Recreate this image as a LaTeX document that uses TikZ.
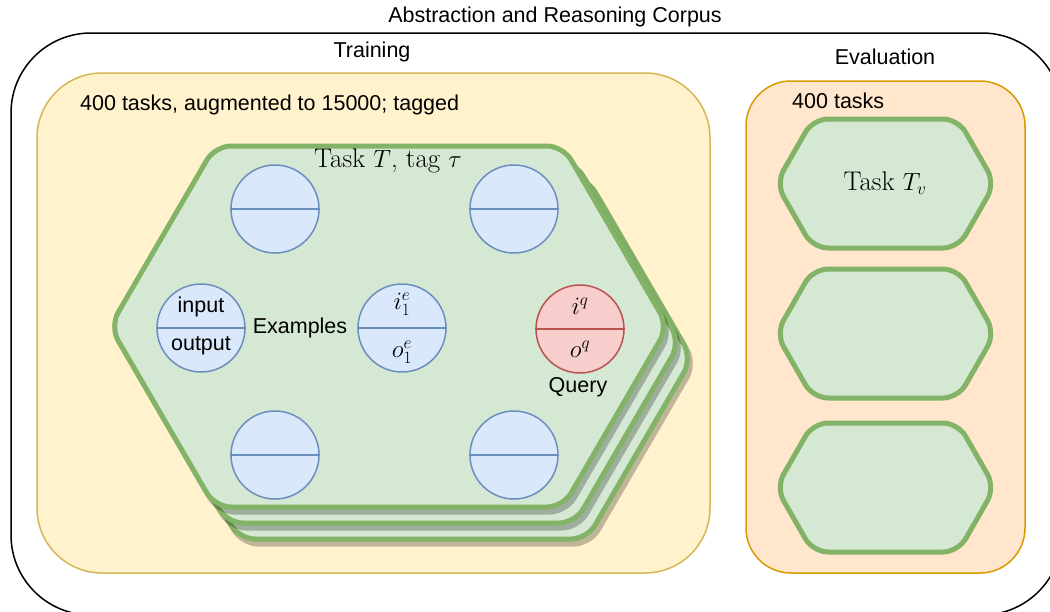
\documentclass[tikz,border=0pt]{standalone}
\usepackage{amsmath}
\usepackage{fontspec}
\setsansfont{Liberation Sans}
\usetikzlibrary{calc}
\definecolor{greenfill}{HTML}{D5E8D4}
\definecolor{greenline}{HTML}{82B366}
\definecolor{bluefill}{HTML}{DAE8FC}
\definecolor{blueline}{HTML}{6C8EBF}
\definecolor{redfill}{HTML}{F8CECC}
\definecolor{redline}{HTML}{B85450}
\definecolor{yellowfill}{HTML}{FFF2CC}
\definecolor{yellowline}{HTML}{D6B656}
\definecolor{orangefill}{HTML}{FFE6CC}
\definecolor{orangeline}{HTML}{D79B00}

\begin{document}
\begin{tikzpicture}[x=1pt,y=-1pt,
    sanslabel/.style={font=\sffamily\fontsize{21.5}{24}\selectfont, inner sep=0pt},
    mathlabel/.style={font=\rmfamily\fontsize{27}{30}\selectfont, inner sep=0pt},
    taskhex/.style={fill=greenfill, draw=greenline, line width=5pt, rounded corners=16pt},
    hexshadow/.style={fill=black, draw=black, line width=5pt, rounded corners=16pt},
    pair/.style={circle, minimum size=88pt, inner sep=0pt, line width=1.5pt, fill=bluefill, draw=blueline},
    querypair/.style={pair, fill=redfill, draw=redline}]
    \useasboundingbox (0,0) rectangle (1050,611);
    \clip (0,0) rectangle (1050,611);
    \fill[white] (0,0) rectangle (1050,611);
        % corpus
        \draw[line width=1.5pt, rounded corners=80pt] (11,33) rectangle (1062,615);
        \node[sanslabel] (corpus) at (555,17) {Abstraction and Reasoning Corpus};
        % training set
        \draw[fill=yellowfill, draw=yellowline, line width=1.5pt, rounded corners=65pt] (37,73) rectangle (710,573);
        \node[sanslabel] (training) at (372,52) {Training};
        \node[sanslabel, anchor=west] (trainsize) at (80,105) {400 tasks, augmented to 15000; tagged};
        % evaluation set
        \draw[fill=orangefill, draw=orangeline, line width=1.5pt, rounded corners=45pt] (746,81) rectangle (1025,573);
        \node[sanslabel] (evaluation) at (885,57) {Evaluation};
        \node[sanslabel, anchor=west] (evalsize) at (792,101) {400 tasks};
        % stack of training tasks
        \foreach \d in {2,1,0} {
        \begin{scope}[transparency group, opacity=0.25]
        \draw[hexshadow, shift={(12*\d+3,16*\d+5)}] (389,146) -- (563,146) -- (668,326.5) -- (563,507) -- (215,507) -- (110,326.5) -- (215,146) -- cycle;
        \end{scope}
        \draw[taskhex, shift={(12*\d,16*\d)}] (389,146) -- (563,146) -- (668,326.5) -- (563,507) -- (215,507) -- (110,326.5) -- (215,146) -- cycle;
        }
        \node[mathlabel] (task) at (388,161) {Task $T$, tag $\tau$};
        % evaluation tasks
        \foreach \t/\b in {119/248, 269/398, 423/552}
        \draw[taskhex, rounded corners=15pt] (885,\t) -- (958,\t) -- (995,{(\t+\b)/2}) -- (958,\b) -- (813,\b) -- (776,{(\t+\b)/2}) -- (813,\t) -- cycle;
        \node[mathlabel] (evaltask) at (885,183) {Task $T_v$};
        % examples and query
        \foreach \n/\x/\y in {ex1/275/209, ex2/514/209, ex3/275/455, ex4/514/455, exio/201/328, exi/402/328}
        \node[pair] (\n) at (\x,\y) {};
        \node[querypair] (query) at (580,329) {};
        \foreach \n in {ex1,ex2,ex3,ex4,exio,exi}
        \draw[blueline, line width=1.5pt] (\n.west) -- (\n.east);
        \draw[redline, line width=1.5pt] (query.west) -- (query.east);
        \node[sanslabel] (input) at (201,307) {input};
        \node[sanslabel] (output) at (201,346) {output};
        \node[sanslabel] (examples) at (300,328) {Examples};
        \node[mathlabel] (ie) at (402,304) {$i_1^e$};
        \node[mathlabel] (oe) at (402,352) {$o_1^e$};
        \node[mathlabel] (iq) at (580,306) {$i^q$};
        \node[mathlabel] (oq) at (580,349) {$o^q$};
        \node[sanslabel] (querylabel) at (578,387) {Query};
    \end{tikzpicture}
\end{document}
